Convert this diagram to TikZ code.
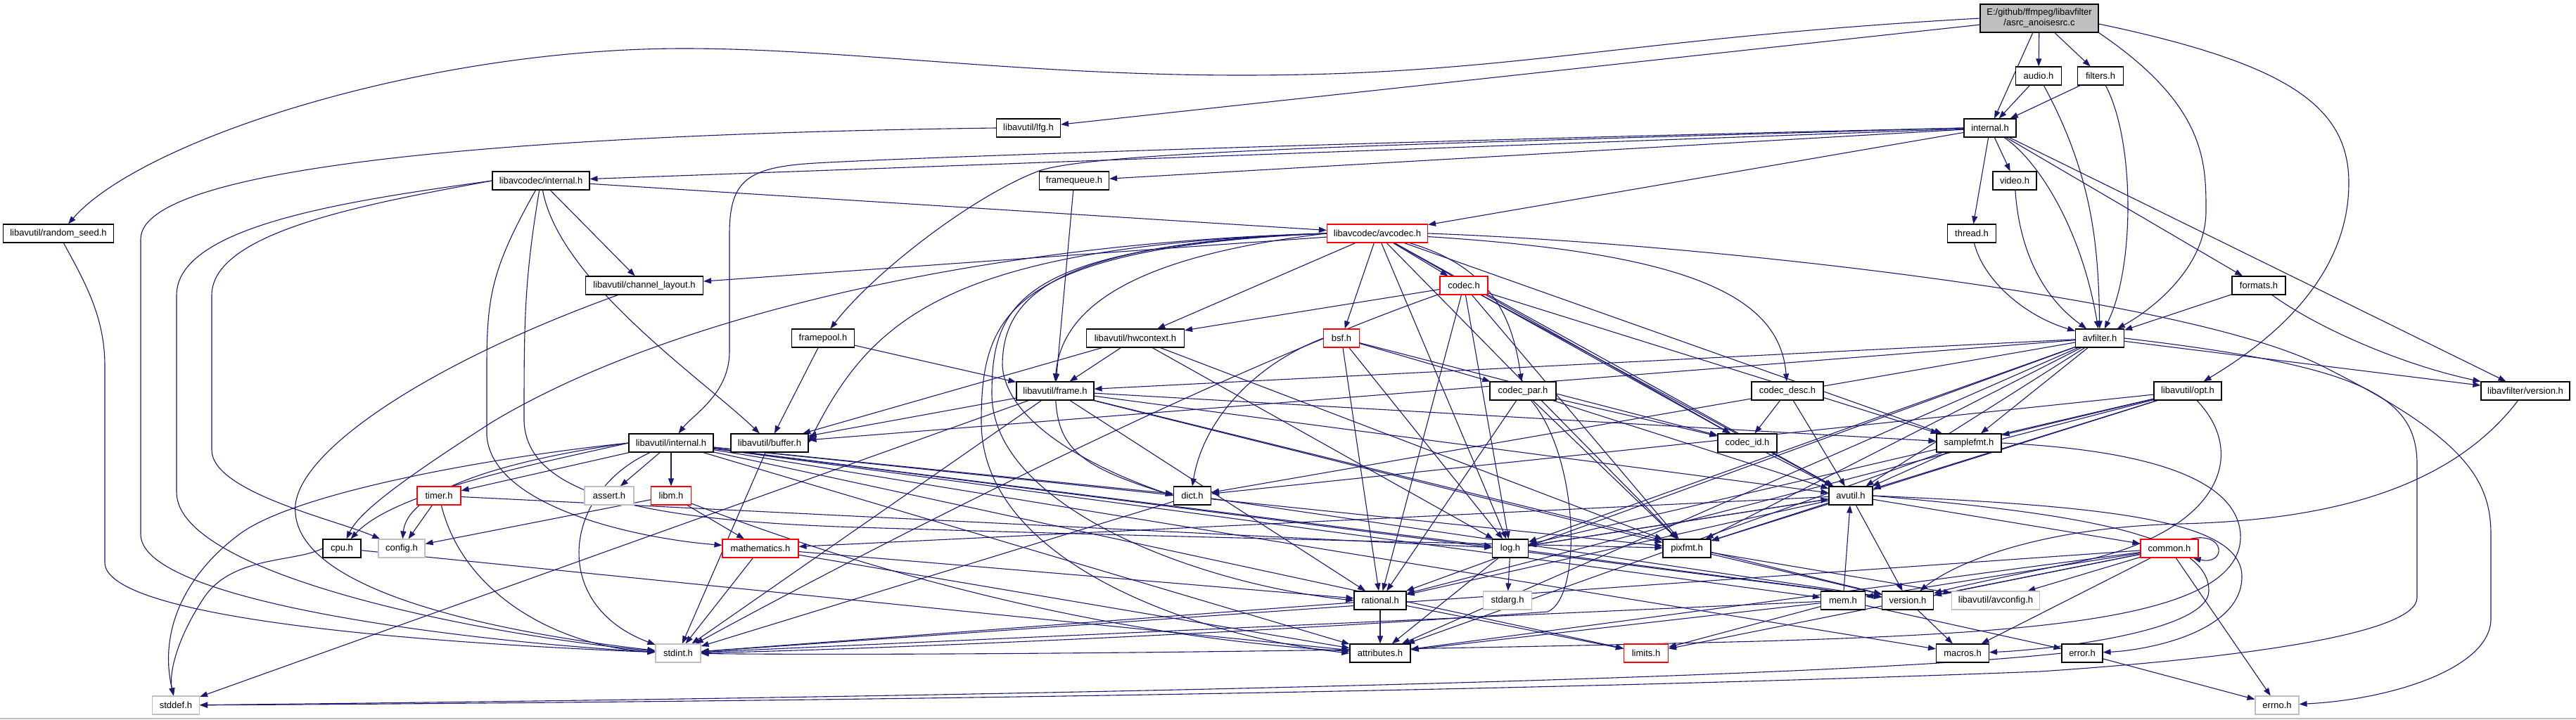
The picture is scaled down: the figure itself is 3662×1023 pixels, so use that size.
\documentclass[tikz,border=0pt]{standalone}
\usepackage{fontspec}
\setmainfont{Liberation Sans}
\usetikzlibrary{arrows.meta}
\pgfdeclarelayer{back}
\pgfdeclarelayer{bg}
\pgfsetlayers{back,bg,main}
\definecolor{edgec}{HTML}{191970}
\definecolor{redb}{HTML}{FF0000}
\definecolor{grayb}{HTML}{BFBFBF}
\begin{document}
\begin{tikzpicture}[x=1pt,y=1pt,
  nd/.style={draw=black, line width=1.1pt, fill=white, minimum height=26pt, inner sep=0pt, font=\fontsize{13}{15}\selectfont, text=black},
  rd/.style={nd, draw=redb},
  gr/.style={nd, draw=grayb},
  e/.style={draw=edgec, line width=1.1pt, -{Triangle[length=11pt,width=8pt]}}]
\useasboundingbox (0,0) rectangle (3662,-1023);
\begin{pgfonlayer}{back}
\fill[white] (0,0) rectangle (3662,-1023);
\draw[grayb, line width=2pt] (0,-1022) -- (3662,-1022);
\end{pgfonlayer}
% nodes
\node[nd, fill=grayb, minimum width=168pt, minimum height=40pt, align=center] (main) at (2899,-26) {E:/github/ffmpeg/libavfilter\\/asrc\_anoisesrc.c};
\node[nd, minimum width=65pt] (audio) at (2898,-108) {audio.h};
\node[nd, minimum width=65pt] (filters) at (2986,-108) {filters.h};
\node[nd, minimum width=91pt] (lfg) at (1462,-182) {libavutil/lfg.h};
\node[nd, minimum width=74pt] (finternal) at (2829,-182) {internal.h};
\node[nd, minimum width=138pt] (cinternal) at (769,-257) {libavcodec/internal.h};
\node[nd, minimum width=99pt] (fqueue) at (1527,-257) {framequeue.h};
\node[nd, minimum width=62pt] (video) at (2864,-257) {video.h};
\node[nd, minimum width=157pt] (rseed) at (83,-332) {libavutil/random\_seed.h};
\node[rd, minimum width=143pt] (avcodec) at (1958,-332) {libavcodec/avcodec.h};
\node[nd, minimum width=69pt] (thread) at (2803,-332) {thread.h};
\node[nd, minimum width=167pt] (chlayout) at (916,-406) {libavutil/channel\_layout.h};
\node[rd, minimum width=68pt] (codec) at (2081,-406) {codec.h};
\node[nd, minimum width=76pt] (formats) at (3211,-406) {formats.h};
\node[nd, minimum width=89pt] (fpool) at (1170,-481) {framepool.h};
\node[nd, minimum width=139pt] (hwctx) at (1614,-481) {libavutil/hwcontext.h};
\node[rd, minimum width=51pt] (bsf) at (1907,-481) {bsf.h};
\node[nd, minimum width=69pt] (avfilter) at (2985,-481) {avfilter.h};
\node[nd, minimum width=110pt] (frame) at (1500,-556) {libavutil/frame.h};
\node[nd, minimum width=94pt] (codecpar) at (2165,-556) {codec\_par.h};
\node[nd, minimum width=102pt] (codecdesc) at (2541,-556) {codec\_desc.h};
\node[nd, minimum width=96pt] (opt) at (3110,-556) {libavutil/opt.h};
\node[nd, minimum width=126pt] (fversion) at (3590,-556) {libavfilter/version.h};
\node[nd, minimum width=120pt] (uinternal) at (954,-630) {libavutil/internal.h};
\node[nd, minimum width=110pt] (buffer) at (1094,-630) {libavutil/buffer.h};
\node[nd, minimum width=84pt] (codecid) at (2484,-630) {codec\_id.h};
\node[nd, minimum width=92pt] (samplefmt) at (2799,-630) {samplefmt.h};
\node[rd, minimum width=62pt] (timer) at (624,-705) {timer.h};
\node[gr, minimum width=70pt] (assert) at (866,-705) {assert.h};
\node[rd, minimum width=57pt] (libm) at (954,-705) {libm.h};
\node[nd, minimum width=53pt] (dict) at (1695,-705) {dict.h};
\node[nd, minimum width=62pt] (avutil) at (2631,-705) {avutil.h};
\node[nd, minimum width=54pt] (cpu) at (486,-780) {cpu.h};
\node[gr, minimum width=66pt] (config) at (571,-780) {config.h};
\node[rd, minimum width=108pt] (math) at (1081,-780) {mathematics.h};
\node[nd, minimum width=51pt] (log) at (2147,-780) {log.h};
\node[nd, minimum width=68pt] (pixfmt) at (2398,-780) {pixfmt.h};
\node[rd, minimum width=82pt] (common) at (3084,-780) {common.h};
\node[nd, minimum width=74pt] (rational) at (1962,-854) {rational.h};
\node[gr, minimum width=69pt] (stdarg) at (2143,-854) {stdarg.h};
\node[nd, minimum width=63pt] (mem) at (2620,-854) {mem.h};
\node[nd, minimum width=73pt] (version) at (2712,-854) {version.h};
\node[gr, minimum width=125pt] (avconfig) at (2837,-854) {libavutil/avconfig.h};
\node[gr, minimum width=64pt] (stdint) at (964,-929) {stdint.h};
\node[nd, minimum width=86pt] (attributes) at (1962,-929) {attributes.h};
\node[rd, minimum width=63pt] (limits) at (2340,-929) {limits.h};
\node[nd, minimum width=75pt] (macros) at (2790,-929) {macros.h};
\node[nd, minimum width=58pt] (error) at (2960,-929) {error.h};
\node[gr, minimum width=67pt] (stddef) at (250,-1003) {stddef.h};
\node[gr, minimum width=62pt] (errno) at (3237,-1003) {errno.h};
\begin{pgfonlayer}{bg}
% main
\draw[e] (main.west) .. controls (2300,-55) and (2150,-107) .. (1765,-107) .. controls (1450,-107) and (1200,-69) .. (972,-69) .. controls (600,-69) and (200,-200) .. ([xshift=14pt]rseed.north);
\draw[e] (main) -- (lfg);
\draw[e] (main) -- (finternal);
\draw[e] (main) -- (audio);
\draw[e] (main) -- (filters);
\draw[e] (main.south east) .. controls (3136,-150) and (3136,-230) .. (3136,-300) .. controls (3136,-380) and (3060,-440) .. (avfilter);
\draw[e] ([yshift=-8pt]main.east) .. controls (3250,-90) and (3339,-150) .. (3339,-260) .. controls (3339,-400) and (3220,-490) .. (opt);
% audio, filters
\draw[e] (audio) -- (finternal);
\draw[e] (audio) .. controls (2975,-250) and (2983,-350) .. (avfilter);
\draw[e] (filters) -- (finternal);
\draw[e] (filters) .. controls (3035,-200) and (3035,-380) .. (avfilter);
% libavfilter internal
\draw[e] (finternal) -- (cinternal);
\draw[e] (finternal) -- (fqueue);
\draw[e] (finternal) -- (avcodec);
\draw[e] (finternal.west) .. controls (2000,-200) and (1250,-225) .. (1144,-233) .. controls (1060,-240) and (1037,-260) .. (1037,-333) -- (1037,-500) .. controls (1037,-560) and (985,-590) .. (uinternal);
\draw[e] (finternal.west) .. controls (2000,-205) and (1560,-215) .. (1477,-243) .. controls (1380,-280) and (1240,-390) .. (fpool);
\draw[e] (finternal) -- (thread);
\draw[e] (finternal) -- (video);
\draw[e] (finternal) -- (formats);
\draw[e] (finternal) .. controls (2900,-230) and (2960,-330) .. (avfilter);
\draw[e] (finternal) -- (fversion);
\draw[e] (video) .. controls (2870,-350) and (2900,-420) .. (avfilter);
\draw[e] (thread) .. controls (2820,-400) and (2880,-450) .. (avfilter);
\draw[e] (formats) -- (avfilter);
\draw[e] (formats) .. controls (3300,-470) and (3420,-520) .. (fversion);
% libavcodec internal
\draw[e] (cinternal) -- (avcodec);
\draw[e] (cinternal) -- (chlayout);
\draw[e] (cinternal) .. controls (795,-400) and (1000,-540) .. (buffer);
\draw[e] (cinternal.west) .. controls (500,-285) and (251,-320) .. (251,-420) -- (251,-700) .. controls (251,-820) and (700,-905) .. (stdint);
\draw[e] (cinternal.west) .. controls (520,-290) and (301,-330) .. (301,-420) -- (301,-640) .. controls (301,-700) and (480,-740) .. (config);
\draw[e] (cinternal) .. controls (700,-380) and (692,-420) .. (692,-520) -- (692,-620) .. controls (700,-720) and (900,-765) .. (math);
\draw[e] (cinternal) .. controls (745,-400) and (745,-460) .. (745,-600) .. controls (750,-700) and (900,-740) .. (1220,-750) .. controls (1700,-765) and (2200,-775) .. (pixfmt);
% lfg, random_seed
\draw[e] (lfg.west) .. controls (800,-190) and (200,-230) .. (200,-340) -- (200,-760) .. controls (200,-860) and (700,-915) .. (stdint);
\draw[e] (rseed) .. controls (120,-400) and (149,-450) .. (149,-520) -- (149,-800) .. controls (149,-870) and (500,-910) .. (stdint);
% framequeue, framepool
\draw[e] (fqueue) -- (frame);
\draw[e] (fpool) -- (buffer);
\draw[e] (fpool) -- (frame);
% channel_layout
\draw[e] (chlayout) .. controls (600,-520) and (410,-650) .. (420,-730) .. controls (430,-860) and (800,-910) .. (stdint);
% avcodec
\draw[e] (avcodec) -- (chlayout);
\draw[e] (avcodec.west) .. controls (1400,-345) and (950,-450) .. (700,-600) .. controls (560,-690) and (510,-730) .. (cpu);
\draw[e] (avcodec) -- (hwctx);
\draw[e] (avcodec) -- (bsf);
\draw[e] (avcodec) -- (codec);
\draw[e] (avcodec.west) .. controls (1350,-350) and (1240,-450) .. (buffer.east);
\draw[e] (avcodec.west) .. controls (1650,-360) and (1510,-420) .. (frame.north);
\draw[e] (avcodec.west) .. controls (1500,-345) and (1425,-420) .. (1425,-520) .. controls (1430,-600) and (1550,-665) .. (dict.west);
\draw[e] (avcodec.west) .. controls (1450,-350) and (1410,-430) .. (1410,-560) .. controls (1410,-720) and (1700,-830) .. (rational.west);
\draw[e] (avcodec.west) .. controls (1430,-352) and (1395,-450) .. (1395,-600) .. controls (1395,-800) and (1700,-905) .. (attributes.west);
\draw[e] (avcodec) -- (log);
\draw[e] (avcodec) -- (pixfmt);
\draw[e] (avcodec) -- (avutil);
\draw[e] (avcodec) -- (samplefmt);
\draw[e] (avcodec) .. controls (2400,-360) and (2530,-420) .. (codecdesc);
\draw[e] (avcodec) .. controls (2120,-380) and (2150,-450) .. (codecpar);
\draw[e] (avcodec) -- (codecid);
\draw[e] (avcodec.east) .. controls (2400,-345) and (3100,-420) .. (3300,-520) .. controls (3500,-620) and (3541,-680) .. (3541,-760) -- (3541,-880) .. controls (3541,-950) and (3400,-995) .. (errno);
% codec
\draw[e] (codec) -- (hwctx);
\draw[e] (codec) .. controls (1700,-540) and (1200,-800) .. (stdint);
\draw[e] (codec) -- (avutil);
\draw[e] (codec) -- (log);
\draw[e] (codec) -- (pixfmt);
\draw[e] (codec) -- (rational);
\draw[e] (codec) -- (samplefmt);
\draw[e] (codec) -- (codecid);
% bsf
\draw[e] (bsf.west) .. controls (1780,-520) and (1710,-600) .. (dict.north);
\draw[e] (bsf) -- (log);
\draw[e] (bsf) -- (rational);
\draw[e] (bsf) -- (codecid);
\draw[e] (bsf) -- (codecpar);
% hwcontext
\draw[e] (hwctx) -- (buffer);
\draw[e] (hwctx) -- (frame);
\draw[e] (hwctx) -- (log);
\draw[e] (hwctx) -- (pixfmt);
% avfilter
\draw[e] (avfilter) -- (frame);
\draw[e] (avfilter) -- (buffer);
\draw[e] (avfilter) -- (dict);
\draw[e] (avfilter) -- (log);
\draw[e] (avfilter) -- (pixfmt);
\draw[e] (avfilter) -- (rational);
\draw[e] (avfilter) -- (attributes);
\draw[e] (avfilter) -- (samplefmt);
\draw[e] (avfilter) -- (avutil);
\draw[e] (avfilter) -- (fversion);
\draw[e] (avfilter.east) .. controls (3350,-520) and (3436,-560) .. (3436,-660) -- (3436,-850) .. controls (3436,-900) and (3200,-935) .. (2900,-955) .. controls (2000,-990) and (800,-1000) .. (stddef);
% frame
\draw[e] (frame) -- (stdint);
\draw[e] (frame) -- (stddef);
\draw[e] (frame) -- (avutil);
\draw[e] (frame) -- (buffer);
\draw[e] (frame) .. controls (1505,-640) and (1540,-665) .. (dict.west);
\draw[e] (frame) -- (rational);
\draw[e] (frame) -- (samplefmt);
\draw[e] (frame) -- (pixfmt);
\draw[e] (frame) -- (version);
% libavutil internal
\draw[e] (uinternal.west) .. controls (700,-650) and (420,-700) .. (340,-760) .. controls (260,-820) and (226,-900) .. (stddef);
\draw[e] (uinternal.west) .. controls (760,-660) and (560,-700) .. (cpu);
\draw[e] (uinternal.west) .. controls (750,-650) and (580,-690) .. (config);
\draw[e] (uinternal) -- (timer);
\draw[e] (uinternal) -- (assert);
\draw[e] (uinternal) -- (libm);
\draw[e] (uinternal) .. controls (800,-700) and (780,-860) .. (stdint);
\draw[e] (uinternal) -- (dict);
\draw[e] (uinternal) -- (log);
\draw[e] (uinternal) -- (pixfmt);
\draw[e] (uinternal) -- (version);
\draw[e] (uinternal) -- (mem);
\draw[e] (uinternal) -- (macros);
\draw[e] (uinternal) -- (attributes);
\draw[e] (uinternal) -- (limits);
% timer, libm, mathematics, cpu
\draw[e] (timer) -- (config);
\draw[e] (timer) .. controls (660,-850) and (800,-920) .. (stdint);
\draw[e] (timer) -- (log);
\draw[e] (libm) -- (config);
\draw[e] (libm) -- (math);
\draw[e] (libm) .. controls (1150,-780) and (1500,-900) .. (attributes);
\draw[e] (math) -- (stdint);
\draw[e] (math) -- (attributes);
\draw[e] (math) -- (rational);
\draw[e] (cpu.west) .. controls (420,-800) and (330,-790) .. (290,-850) .. controls (250,-910) and (240,-960) .. (stddef);
\draw[e] (cpu) -- (attributes);
% buffer, dict
\draw[e] (buffer) -- (stdint);
\draw[e] (dict) -- (stdint);
\draw[e] (dict) -- (version);
% codec_par, codec_desc, codec_id, samplefmt
\draw[e] (codecpar) .. controls (2245,-650) and (2250,-850) .. (2200,-870) .. controls (1800,-900) and (1200,-925) .. (stdint);
\draw[e] (codecpar) -- (avutil);
\draw[e] (codecpar) -- (rational);
\draw[e] (codecpar) -- (pixfmt);
\draw[e] (codecpar) -- (codecid);
\draw[e] (codecdesc) -- (avutil);
\draw[e] (codecdesc) -- (codecid);
\draw[e] (codecid) -- (avutil);
\draw[e] (samplefmt) -- (avutil);
\draw[e] (samplefmt) -- (attributes);
\draw[e] (samplefmt.east) .. controls (3050,-640) and (3180,-680) .. (3185,-760) .. controls (3190,-880) and (2900,-900) .. (2500,-912) .. controls (1800,-930) and (1200,-932) .. (stdint);
% opt
\draw[e] (opt) -- (samplefmt);
\draw[e] (opt) -- (avutil);
\draw[e] (opt) -- (dict);
\draw[e] (opt) -- (log);
\draw[e] (opt) -- (pixfmt);
\draw[e] (opt) -- (rational);
\draw[e] (opt) .. controls (3200,-650) and (3150,-760) .. (2950,-800) .. controls (2850,-820) and (2780,-835) .. (version);
% libavfilter version
\draw[e] (fversion) .. controls (3480,-700) and (3300,-740) .. (3100,-745) .. controls (2900,-750) and (2780,-800) .. (version);
% avutil
\draw[e] (avutil) -- (common);
\draw[e] (avutil.east) .. controls (3000,-720) and (3187,-740) .. (3187,-820) .. controls (3187,-900) and (3050,-925) .. (error);
\draw[e] (avutil.east) .. controls (2950,-730) and (3140,-760) .. (3140,-840) .. controls (3140,-900) and (2900,-925) .. (macros);
\draw[e] (avutil) -- (math);
\draw[e] (avutil) -- (rational);
\draw[e] (avutil) -- (version);
\draw[e] (avutil) -- (log);
\draw[e] (avutil) -- (pixfmt);
% log, pixfmt
\draw[e] (log) -- (stdarg);
\draw[e] (log) -- (avutil);
\draw[e] (log) -- (attributes);
\draw[e] (log) -- (version);
\draw[e] (pixfmt) -- (avconfig);
\draw[e] (pixfmt) -- (version);
% common
\draw[e] ([xshift=-12pt]common.north east) .. controls (3165,-755) and (3165,-805) .. ([xshift=-8pt]common.south east);
\draw[e] (common) -- (errno);
\draw[e] (common) -- (limits);
\draw[e] (common) -- (stdint);
\draw[e] (common) -- (attributes);
\draw[e] (common) -- (macros);
\draw[e] (common) -- (version);
\draw[e] (common) -- (avconfig);
\draw[e] (common) -- (mem);
% mem
\draw[e] (mem) -- (avutil);
\draw[e] (mem) -- (limits);
\draw[e] (mem) -- (stdint);
\draw[e] (mem) -- (attributes);
\draw[e] (mem) -- (error);
% rational, version, error
\draw[e] (rational) -- (stdint);
\draw[e] (rational) -- (limits);
\draw[e] (rational) -- (attributes);
\draw[e] (version) -- (macros);
\draw[e] (error) -- (errno);
\draw[e] (error.west) .. controls (2600,-965) and (1500,-990) .. (stddef);
\end{pgfonlayer}
\end{tikzpicture}
\end{document}
